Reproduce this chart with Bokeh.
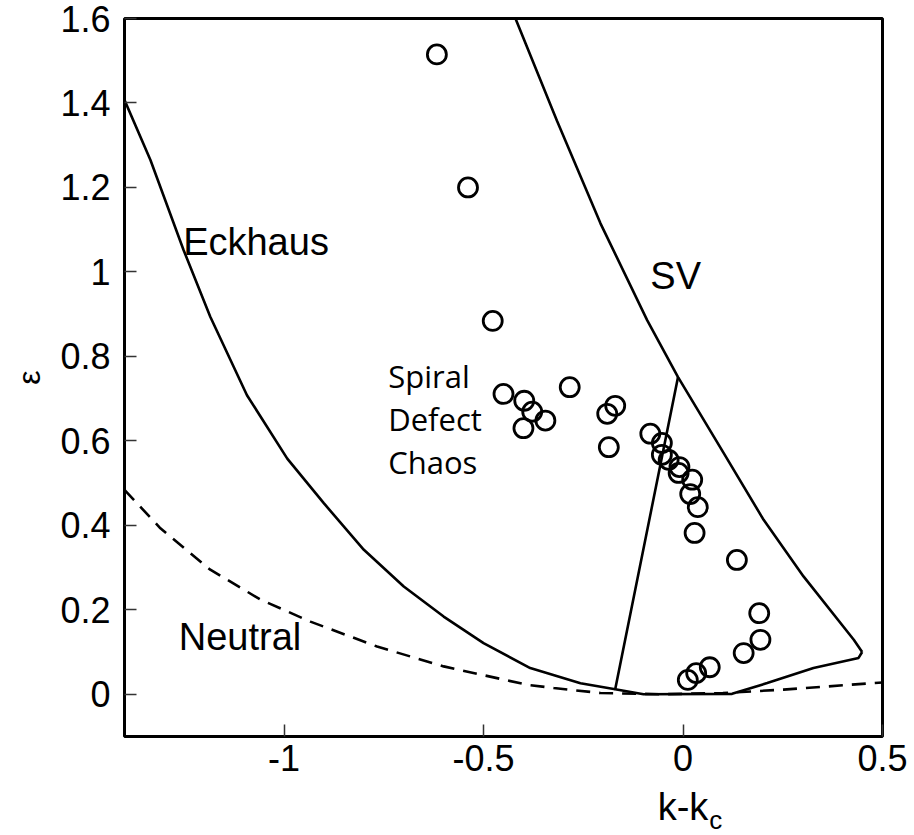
from bokeh.plotting import figure
from bokeh.layouts import column
from bokeh.models import Range1d, FixedTicker, CustomJSTickFormatter
from bokeh.core.properties import value
from bokeh.embed import file_html
from bokeh.resources import INLINE

# ---- data ----
x_ticks = [-1.0, -0.5, 0.0, 0.5]
y_ticks = [0.0, 0.2, 0.4, 0.6, 0.8, 1.0, 1.2, 1.4, 1.6]

# experimental points (k - k_c, epsilon)
pts_k = [-0.617, -0.539, -0.477, -0.450, -0.398, -0.378, -0.400, -0.345, -0.284,
         -0.170, -0.190, -0.186, -0.082, -0.053, -0.053, -0.036, -0.009, -0.011,
         0.023, 0.018, 0.037, 0.029, 0.135, 0.191, 0.194, 0.152, 0.067, 0.033, 0.012]
pts_eps = [1.515, 1.200, 0.884, 0.711, 0.695, 0.669, 0.630, 0.648, 0.727,
           0.683, 0.664, 0.585, 0.617, 0.595, 0.567, 0.555, 0.538, 0.524,
           0.508, 0.474, 0.443, 0.382, 0.318, 0.192, 0.129, 0.0975, 0.064, 0.050, 0.034]

# Eckhaus boundary
eck_k = [-1.4, -1.335, -1.252, -1.185, -1.093, -0.992, -0.901, -0.800, -0.700,
         -0.600, -0.500, -0.383, -0.257, -0.170]
eck_eps = [1.407, 1.265, 1.052, 0.894, 0.708, 0.558, 0.453, 0.342, 0.255,
           0.184, 0.121, 0.062, 0.026, 0.012]

# Neutral curve (dashed)
neu_k = [-1.4, -1.31, -1.185, -1.059, -0.934, -0.767, -0.6, -0.391, -0.324,
         -0.207, -0.05, 0.1, 0.252, 0.5]
neu_eps = [0.484, 0.393, 0.295, 0.224, 0.172, 0.113, 0.066, 0.0225, 0.0147,
           0.003, 0.0, 0.003, 0.011, 0.028]

# Skew-varicose boundary
sv_k = [-0.420, -0.316, -0.207, -0.090, -0.0125, 0.102, 0.202, 0.302, 0.428, 0.449]
sv_eps = [1.6, 1.358, 1.115, 0.886, 0.751, 0.571, 0.413, 0.279, 0.129, 0.100]

# lower boundary and interior line up to SV apex
low_k = [0.449, 0.440, 0.327, 0.211, 0.123, -0.099, -0.170, -0.0125]
low_eps = [0.100, 0.086, 0.062, 0.0265, 0.001, 0.0, 0.012, 0.751]

# region labels
big_labels = ["Eckhaus", "SV", "Neutral"]
big_k = [-1.253, -0.082, -1.264]
big_eps = [1.0715, 0.9905, 0.1365]

sdc_labels = ["Spiral", "Defect", "Chaos"]
sdc_k = [-0.739, -0.739, -0.739]
sdc_eps = [0.754, 0.652, 0.550]

x_label_main = "k-k"
x_label_sub = "c"

FONT = "Liberation Sans"
LW = 2.6

# ---- main plot ----
p = figure(width=914, height=785, output_backend="svg", toolbar_location=None,
           x_range=Range1d(-1.4, 0.5), y_range=Range1d(-0.1, 1.6),
           min_border_left=124, min_border_right=32, min_border_top=18,
           min_border_bottom=49)
p.background_fill_color = "white"
p.border_fill_color = "white"
p.xgrid.visible = False
p.ygrid.visible = False
p.outline_line_color = "black"
p.outline_line_width = 3
p.outline_line_alpha = 1.0

fmt = CustomJSTickFormatter(code="return String(Number(tick.toFixed(2)));")
for ax, ticks in ((p.xaxis[0], x_ticks), (p.yaxis[0], y_ticks)):
    ax.ticker = FixedTicker(ticks=ticks, minor_ticks=[])
    ax.formatter = fmt
    ax.axis_line_color = None
    ax.major_tick_in = 12
    ax.major_tick_out = 0
    ax.major_tick_line_color = "#333333"
    ax.major_tick_line_width = 1.5
    ax.minor_tick_line_color = None
    ax.major_label_text_font = FONT
    ax.major_label_text_font_size = "36px"
    ax.major_label_text_color = "black"

p.xaxis.major_label_standoff = 8
p.yaxis.major_label_standoff = 14
p.yaxis.axis_label = "ε"
p.yaxis.axis_label_text_font = FONT
p.yaxis.axis_label_text_font_style = "normal"
p.yaxis.axis_label_text_font_size = "32px"
p.yaxis.axis_label_text_color = "black"
p.yaxis.axis_label_standoff = 10

# curves
p.line(eck_k, eck_eps, line_color="black", line_width=LW)
p.line(sv_k, sv_eps, line_color="black", line_width=LW)
p.line(low_k, low_eps, line_color="black", line_width=LW)
p.line(neu_k, neu_eps, line_color="black", line_width=LW, line_dash="14 9")

# points
p.scatter(pts_k, pts_eps, marker="circle", size=19, fill_color=None,
          line_color="black", line_width=2.8)

# labels
p.text(big_k, big_eps, text=big_labels, text_font=value(FONT),
       text_font_size="38px", text_align="left", text_baseline="alphabetic",
       text_color="black")
p.text(sdc_k, sdc_eps, text=sdc_labels, text_font=value("Open Sans"),
       text_font_size="31px", text_align="left", text_baseline="alphabetic",
       text_color="black")

# ---- strip below carrying the x-axis title k-k_c (shares the x scale) ----
p2 = figure(width=914, height=50, output_backend="svg", toolbar_location=None,
            x_range=p.x_range, y_range=Range1d(-0.3325, -0.2142),
            x_axis_location=None, y_axis_location=None,
            min_border_left=124, min_border_right=32, min_border_top=0,
            min_border_bottom=0)
p2.xgrid.visible = False
p2.ygrid.visible = False
p2.outline_line_color = None
p2.background_fill_color = "white"
p2.border_fill_color = "white"
p2.text([0.0634], [-0.2642], text=[x_label_main], text_font=value(FONT),
        text_font_size="38px", text_align="right", text_baseline="alphabetic",
        text_color="black")
p2.text([0.066], [-0.2950], text=[x_label_sub], text_font=value(FONT),
        text_font_size="26px", text_align="left", text_baseline="alphabetic",
        text_color="black")

layout = column(p, p2, spacing=0)
open("out.html", "w").write(file_html(layout, INLINE))
